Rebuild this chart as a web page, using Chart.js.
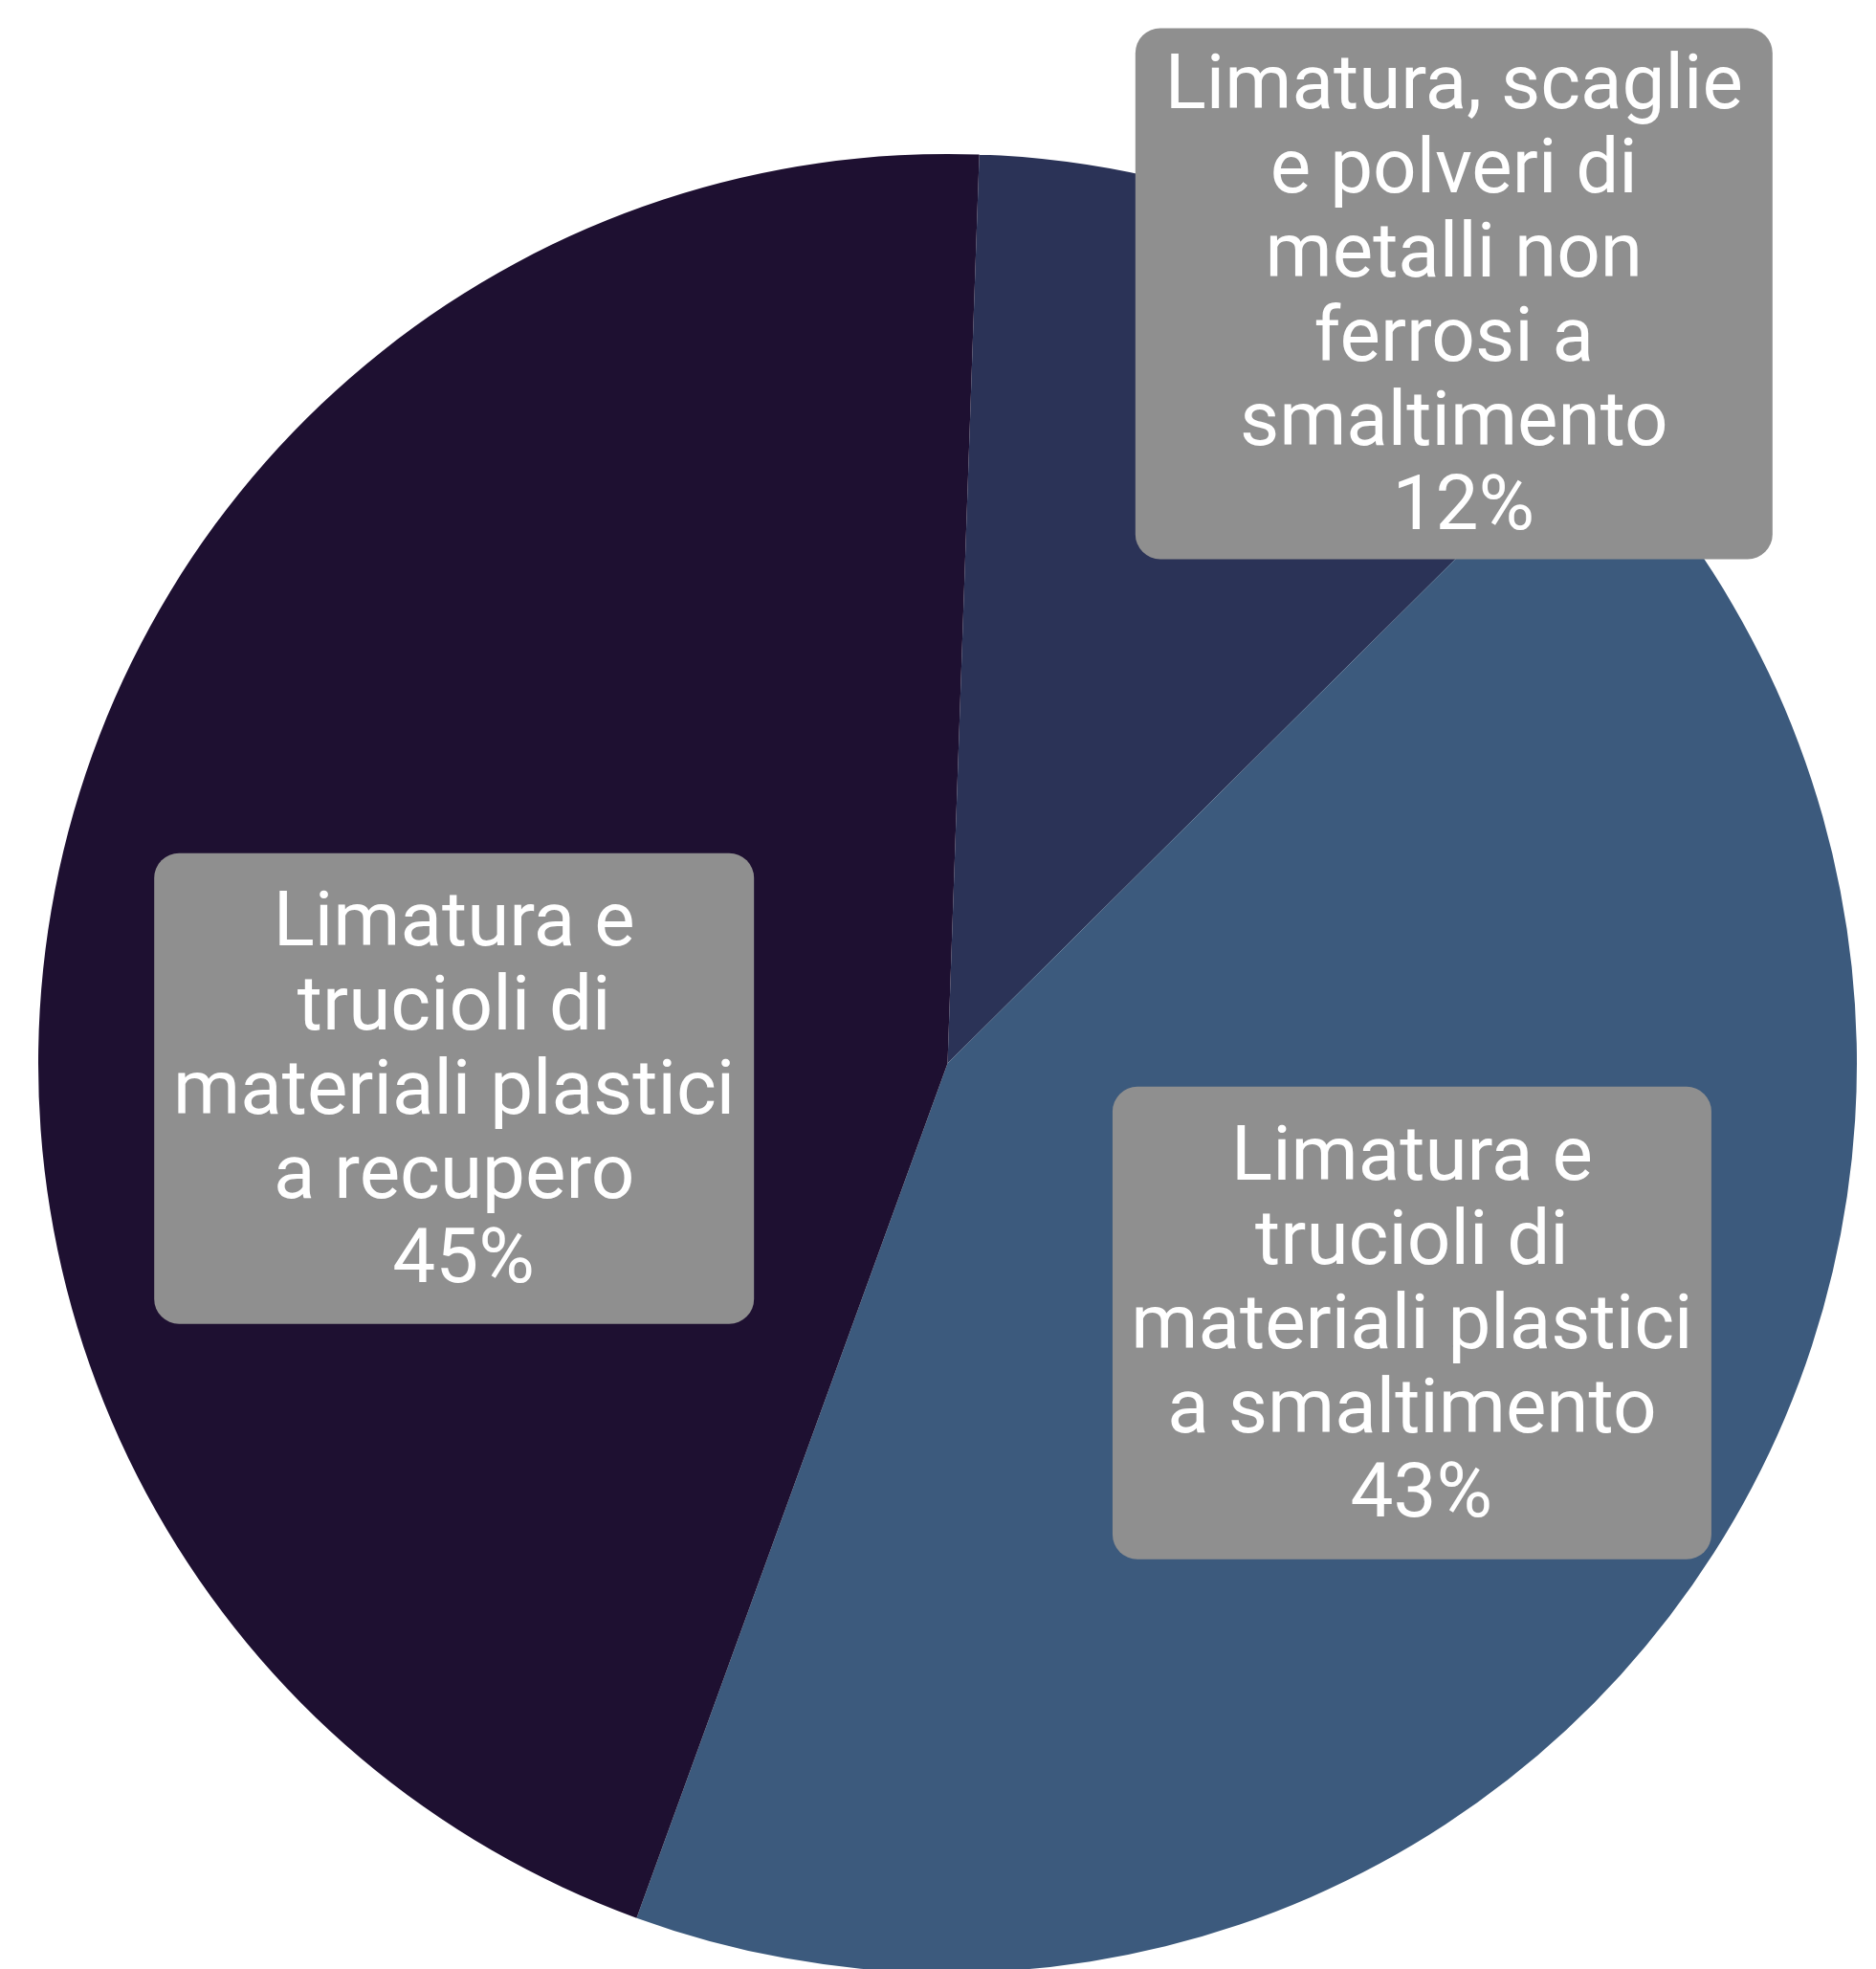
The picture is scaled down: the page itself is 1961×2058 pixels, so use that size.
<!DOCTYPE html>
<html>
  <head>
    <meta charset="utf-8" />
    <title>Limatura e trucioli</title>
    <style>
      html, body { margin: 0; padding: 0; background: #ffffff; overflow: hidden; }
      #wrap { position: relative; width: 1961px; height: 2062px; }
    </style>
  </head>
  <body>
    <div id="wrap"><canvas id="screen"></canvas></div>
    <script src="https://cdn.jsdelivr.net/npm/chart.js@4.4.1/dist/chart.umd.min.js"></script>
    <script>
      // data
      const labels = [
        ["Limatura, scaglie", "e polveri di", "metalli non", "ferrosi a", "smaltimento"],
        ["Limatura e", "trucioli di", "materiali plastici", "a smaltimento"],
        ["Limatura e", "trucioli di", "materiali plastici", "a recupero"]
      ];
      const values = [12, 43, 45];
      const colors = ["#2b3357", "#3c5a7d", "#1e1031"];

      // where each label box sits: arc mid-angle at 0.6 r, then nudged; box sizes
      const labelNudge = [[301, -282], [5, -36], [44, 135]];
      const boxSize = [[666, 555], [626, 494], [627, 492]];

      const boxLabels = {
        id: "boxLabels",
        afterDatasetsDraw(chart) {
          const ctx = chart.ctx;
          const meta = chart.getDatasetMeta(0);
          const total = values.reduce((a, b) => a + b, 0);
          const lineH = 88;
          ctx.save();
          ctx.font = "80px Roboto";
          ctx.textAlign = "center";
          ctx.textBaseline = "middle";
          meta.data.forEach((arc, i) => {
            const mid = (arc.startAngle + arc.endAngle) / 2;
            const cx = arc.x + Math.cos(mid) * arc.outerRadius * 0.6 + labelNudge[i][0];
            const cy = arc.y + Math.sin(mid) * arc.outerRadius * 0.6 + labelNudge[i][1];
            const lines = labels[i].concat([" " + Math.round(values[i] / total * 100) + "%"]);
            const bw = boxSize[i][0];
            const bh = boxSize[i][1];
            ctx.fillStyle = "#8f8f8f";
            ctx.beginPath();
            ctx.roundRect(cx - bw / 2, cy - bh / 2, bw, bh, 26);
            ctx.fill();
            ctx.fillStyle = "#ffffff";
            lines.forEach((l, k) => {
              ctx.fillText(l, cx, cy - (lines.length - 1) * lineH / 2 + k * lineH + 6);
            });
          });
          ctx.restore();
        }
      };

      const chart = new Chart(document.getElementById("screen").getContext("2d"), {
        type: "pie",
        data: {
          labels: labels,
          datasets: [{
            data: values,
            backgroundColor: colors,
            borderWidth: 0,
            hoverOffset: 0
          }]
        },
        options: {
          responsive: true,
          maintainAspectRatio: false,
          animation: false,
          rotation: 2,
          layout: { padding: { top: 161, left: 40, right: 20, bottom: 0 } },
          plugins: {
            legend: { display: false },
            tooltip: { enabled: false }
          }
        },
        plugins: [boxLabels]
      });
    </script>
  </body>
</html>
